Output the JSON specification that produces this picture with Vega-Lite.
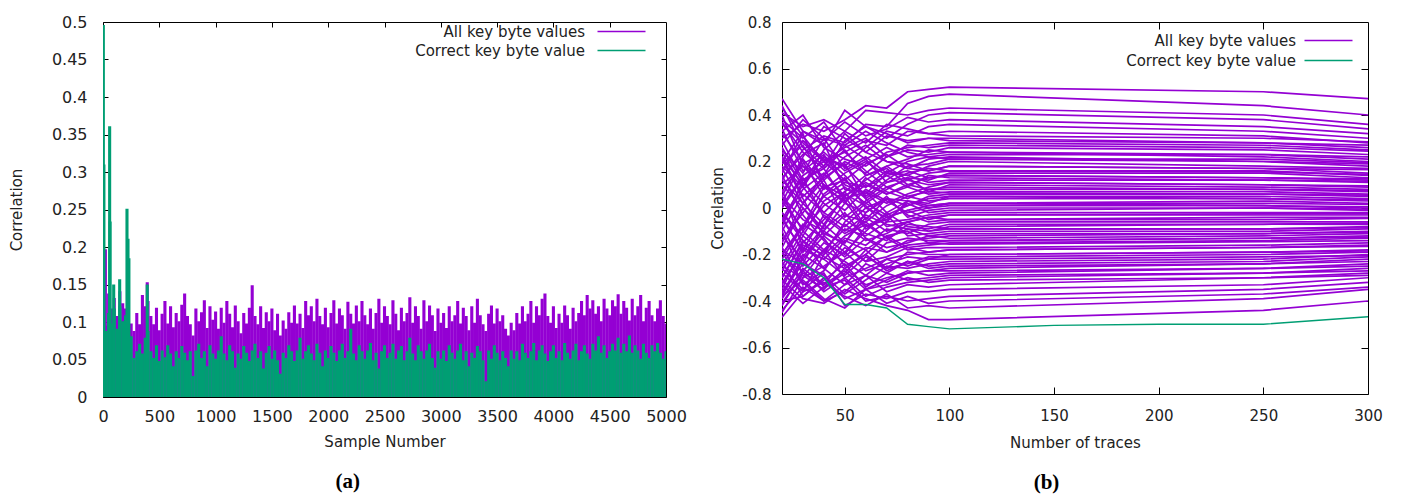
{
"$schema":"https://vega.github.io/schema/vega-lite/v6.json",
"background":"white",
"padding":{"left":8,"top":13,"right":5,"bottom":2},
"config":{"font":"DejaVu Sans","view":{"stroke":"#000","strokeWidth":1},
"axis":{"grid":false,"domain":false,"labelColor":"#222","titleColor":"#222","titleFontWeight":"normal","titleFontSize":15,"tickColor":"#000","tickWidth":1,"labelFlush":false,"labelOverlap":false}},
"datasets":{
"pa":[{"s":21,"r":0.197},{"s":393,"r":0.153},
{"s":0,"r":0.105},{"s":25,"r":0.095},{"s":50,"r":0.138},{"s":75,"r":0.118},{"s":100,"r":0.132},{"s":125,"r":0.108},{"s":150,"r":0.141},{"s":175,"r":0.125},{"s":200,"r":0.118},{"s":225,"r":0.112},{"s":250,"r":0.098},{"s":275,"r":0.088},{"s":300,"r":0.112},{"s":325,"r":0.097},{"s":350,"r":0.136},{"s":375,"r":0.121},{"s":400,"r":0.128},{"s":425,"r":0.108},{"s":450,"r":0.097},{"s":475,"r":0.119},{"s":500,"r":0.089},{"s":525,"r":0.111},{"s":550,"r":0.128},{"s":575,"r":0.098},{"s":600,"r":0.121},{"s":625,"r":0.093},{"s":650,"r":0.112},{"s":675,"r":0.101},{"s":700,"r":0.123},{"s":725,"r":0.138},{"s":750,"r":0.108},{"s":775,"r":0.097},{"s":800,"r":0.082},{"s":825,"r":0.118},{"s":850,"r":0.101},{"s":875,"r":0.113},{"s":900,"r":0.129},{"s":925,"r":0.092},{"s":950,"r":0.121},{"s":975,"r":0.103},
{"s":1000,"r":0.114},{"s":1025,"r":0.091},{"s":1050,"r":0.119},{"s":1075,"r":0.099},{"s":1100,"r":0.128},{"s":1125,"r":0.111},{"s":1150,"r":0.093},{"s":1175,"r":0.122},{"s":1200,"r":0.101},{"s":1225,"r":0.085},{"s":1250,"r":0.112},{"s":1275,"r":0.098},{"s":1300,"r":0.119},{"s":1325,"r":0.149},{"s":1350,"r":0.108},{"s":1375,"r":0.097},{"s":1400,"r":0.121},{"s":1425,"r":0.092},{"s":1450,"r":0.113},{"s":1475,"r":0.101},{"s":1500,"r":0.118},{"s":1525,"r":0.089},{"s":1550,"r":0.111},{"s":1575,"r":0.082},{"s":1600,"r":0.102},{"s":1625,"r":0.091},{"s":1650,"r":0.113},{"s":1675,"r":0.099},{"s":1700,"r":0.122},{"s":1725,"r":0.098},{"s":1750,"r":0.111},{"s":1775,"r":0.092},{"s":1800,"r":0.128},{"s":1825,"r":0.109},{"s":1850,"r":0.121},{"s":1875,"r":0.101},{"s":1900,"r":0.131},{"s":1925,"r":0.108},{"s":1950,"r":0.097},{"s":1975,"r":0.119},
{"s":2000,"r":0.093},{"s":2025,"r":0.112},{"s":2050,"r":0.129},{"s":2075,"r":0.098},{"s":2100,"r":0.118},{"s":2125,"r":0.109},{"s":2150,"r":0.091},{"s":2175,"r":0.127},{"s":2200,"r":0.111},{"s":2225,"r":0.098},{"s":2250,"r":0.122},{"s":2275,"r":0.101},{"s":2300,"r":0.128},{"s":2325,"r":0.109},{"s":2350,"r":0.097},{"s":2375,"r":0.118},{"s":2400,"r":0.091},{"s":2425,"r":0.112},{"s":2450,"r":0.131},{"s":2475,"r":0.099},{"s":2500,"r":0.121},{"s":2525,"r":0.108},{"s":2550,"r":0.097},{"s":2575,"r":0.129},{"s":2600,"r":0.111},{"s":2625,"r":0.089},{"s":2650,"r":0.119},{"s":2675,"r":0.101},{"s":2700,"r":0.112},{"s":2725,"r":0.133},{"s":2750,"r":0.099},{"s":2775,"r":0.121},{"s":2800,"r":0.108},{"s":2825,"r":0.091},{"s":2850,"r":0.129},{"s":2875,"r":0.101},{"s":2900,"r":0.122},{"s":2925,"r":0.109},{"s":2950,"r":0.088},{"s":2975,"r":0.118},
{"s":3000,"r":0.099},{"s":3025,"r":0.112},{"s":3050,"r":0.092},{"s":3075,"r":0.121},{"s":3100,"r":0.101},{"s":3125,"r":0.109},{"s":3150,"r":0.128},{"s":3175,"r":0.098},{"s":3200,"r":0.119},{"s":3225,"r":0.108},{"s":3250,"r":0.089},{"s":3275,"r":0.121},{"s":3300,"r":0.099},{"s":3325,"r":0.131},{"s":3350,"r":0.109},{"s":3375,"r":0.097},{"s":3400,"r":0.088},{"s":3425,"r":0.111},{"s":3450,"r":0.122},{"s":3475,"r":0.098},{"s":3500,"r":0.118},{"s":3525,"r":0.101},{"s":3550,"r":0.109},{"s":3575,"r":0.091},{"s":3600,"r":0.082},{"s":3625,"r":0.099},{"s":3650,"r":0.089},{"s":3675,"r":0.112},{"s":3700,"r":0.098},{"s":3725,"r":0.121},{"s":3750,"r":0.101},{"s":3775,"r":0.111},{"s":3800,"r":0.128},{"s":3825,"r":0.099},{"s":3850,"r":0.121},{"s":3875,"r":0.109},{"s":3900,"r":0.131},{"s":3925,"r":0.138},{"s":3950,"r":0.108},{"s":3975,"r":0.099},
{"s":4000,"r":0.121},{"s":4025,"r":0.092},{"s":4050,"r":0.111},{"s":4075,"r":0.099},{"s":4100,"r":0.122},{"s":4125,"r":0.109},{"s":4150,"r":0.091},{"s":4175,"r":0.119},{"s":4200,"r":0.101},{"s":4225,"r":0.112},{"s":4250,"r":0.128},{"s":4275,"r":0.109},{"s":4300,"r":0.136},{"s":4325,"r":0.118},{"s":4350,"r":0.129},{"s":4375,"r":0.111},{"s":4400,"r":0.121},{"s":4425,"r":0.101},{"s":4450,"r":0.131},{"s":4475,"r":0.118},{"s":4500,"r":0.109},{"s":4525,"r":0.129},{"s":4550,"r":0.121},{"s":4575,"r":0.137},{"s":4600,"r":0.111},{"s":4625,"r":0.128},{"s":4650,"r":0.119},{"s":4675,"r":0.102},{"s":4700,"r":0.131},{"s":4725,"r":0.109},{"s":4750,"r":0.121},{"s":4775,"r":0.136},{"s":4800,"r":0.101},{"s":4825,"r":0.119},{"s":4850,"r":0.128},{"s":4875,"r":0.109},{"s":4900,"r":0.101},{"s":4925,"r":0.118},{"s":4950,"r":0.129},{"s":4975,"r":0.108},{"s":5000,"r":0.098}],
"ga":[
{"s":0,"r":0.105},{"s":25,"r":0.088},{"s":50,"r":0.112},{"s":75,"r":0.098},{"s":100,"r":0.118},{"s":125,"r":0.091},{"s":150,"r":0.121},{"s":175,"r":0.101},{"s":200,"r":0.109},{"s":225,"r":0.098},{"s":250,"r":0.081},{"s":275,"r":0.052},{"s":300,"r":0.061},{"s":325,"r":0.071},{"s":350,"r":0.058},{"s":375,"r":0.079},{"s":400,"r":0.088},{"s":425,"r":0.061},{"s":450,"r":0.052},{"s":475,"r":0.069},{"s":500,"r":0.048},{"s":525,"r":0.062},{"s":550,"r":0.053},{"s":575,"r":0.069},{"s":600,"r":0.058},{"s":625,"r":0.041},{"s":650,"r":0.061},{"s":675,"r":0.052},{"s":700,"r":0.068},{"s":725,"r":0.059},{"s":750,"r":0.049},{"s":775,"r":0.061},{"s":800,"r":0.028},{"s":825,"r":0.062},{"s":850,"r":0.071},{"s":875,"r":0.052},{"s":900,"r":0.061},{"s":925,"r":0.041},{"s":950,"r":0.069},{"s":975,"r":0.058},
{"s":1000,"r":0.051},{"s":1025,"r":0.062},{"s":1050,"r":0.081},{"s":1075,"r":0.058},{"s":1100,"r":0.049},{"s":1125,"r":0.069},{"s":1150,"r":0.061},{"s":1175,"r":0.039},{"s":1200,"r":0.058},{"s":1225,"r":0.051},{"s":1250,"r":0.068},{"s":1275,"r":0.059},{"s":1300,"r":0.048},{"s":1325,"r":0.062},{"s":1350,"r":0.071},{"s":1375,"r":0.052},{"s":1400,"r":0.061},{"s":1425,"r":0.038},{"s":1450,"r":0.059},{"s":1475,"r":0.068},{"s":1500,"r":0.051},{"s":1525,"r":0.062},{"s":1550,"r":0.049},{"s":1575,"r":0.031},{"s":1600,"r":0.059},{"s":1625,"r":0.052},{"s":1650,"r":0.069},{"s":1675,"r":0.061},{"s":1700,"r":0.048},{"s":1725,"r":0.062},{"s":1750,"r":0.079},{"s":1775,"r":0.051},{"s":1800,"r":0.061},{"s":1825,"r":0.069},{"s":1850,"r":0.058},{"s":1875,"r":0.049},{"s":1900,"r":0.071},{"s":1925,"r":0.059},{"s":1950,"r":0.041},{"s":1975,"r":0.062},
{"s":2000,"r":0.052},{"s":2025,"r":0.068},{"s":2050,"r":0.059},{"s":2075,"r":0.048},{"s":2100,"r":0.062},{"s":2125,"r":0.071},{"s":2150,"r":0.052},{"s":2175,"r":0.061},{"s":2200,"r":0.091},{"s":2225,"r":0.058},{"s":2250,"r":0.049},{"s":2275,"r":0.069},{"s":2300,"r":0.061},{"s":2325,"r":0.051},{"s":2350,"r":0.062},{"s":2375,"r":0.072},{"s":2400,"r":0.049},{"s":2425,"r":0.059},{"s":2450,"r":0.038},{"s":2475,"r":0.061},{"s":2500,"r":0.069},{"s":2525,"r":0.052},{"s":2550,"r":0.059},{"s":2575,"r":0.071},{"s":2600,"r":0.051},{"s":2625,"r":0.062},{"s":2650,"r":0.068},{"s":2675,"r":0.049},{"s":2700,"r":0.061},{"s":2725,"r":0.079},{"s":2750,"r":0.058},{"s":2775,"r":0.049},{"s":2800,"r":0.069},{"s":2825,"r":0.061},{"s":2850,"r":0.051},{"s":2875,"r":0.062},{"s":2900,"r":0.071},{"s":2925,"r":0.052},{"s":2950,"r":0.039},{"s":2975,"r":0.061},
{"s":3000,"r":0.051},{"s":3025,"r":0.062},{"s":3050,"r":0.048},{"s":3075,"r":0.069},{"s":3100,"r":0.059},{"s":3125,"r":0.051},{"s":3150,"r":0.062},{"s":3175,"r":0.071},{"s":3200,"r":0.049},{"s":3225,"r":0.061},{"s":3250,"r":0.041},{"s":3275,"r":0.059},{"s":3300,"r":0.052},{"s":3325,"r":0.068},{"s":3350,"r":0.061},{"s":3375,"r":0.049},{"s":3400,"r":0.021},{"s":3425,"r":0.062},{"s":3450,"r":0.051},{"s":3475,"r":0.069},{"s":3500,"r":0.059},{"s":3525,"r":0.049},{"s":3550,"r":0.061},{"s":3575,"r":0.052},{"s":3600,"r":0.041},{"s":3625,"r":0.062},{"s":3650,"r":0.051},{"s":3675,"r":0.061},{"s":3700,"r":0.049},{"s":3725,"r":0.071},{"s":3750,"r":0.059},{"s":3775,"r":0.052},{"s":3800,"r":0.061},{"s":3825,"r":0.072},{"s":3850,"r":0.049},{"s":3875,"r":0.062},{"s":3900,"r":0.069},{"s":3925,"r":0.058},{"s":3950,"r":0.048},{"s":3975,"r":0.061},
{"s":4000,"r":0.069},{"s":4025,"r":0.052},{"s":4050,"r":0.061},{"s":4075,"r":0.049},{"s":4100,"r":0.072},{"s":4125,"r":0.059},{"s":4150,"r":0.051},{"s":4175,"r":0.062},{"s":4200,"r":0.071},{"s":4225,"r":0.049},{"s":4250,"r":0.061},{"s":4275,"r":0.069},{"s":4300,"r":0.058},{"s":4325,"r":0.051},{"s":4350,"r":0.071},{"s":4375,"r":0.062},{"s":4400,"r":0.081},{"s":4425,"r":0.059},{"s":4450,"r":0.069},{"s":4475,"r":0.052},{"s":4500,"r":0.061},{"s":4525,"r":0.071},{"s":4550,"r":0.062},{"s":4575,"r":0.079},{"s":4600,"r":0.059},{"s":4625,"r":0.071},{"s":4650,"r":0.061},{"s":4675,"r":0.082},{"s":4700,"r":0.059},{"s":4725,"r":0.069},{"s":4750,"r":0.062},{"s":4775,"r":0.051},{"s":4800,"r":0.071},{"s":4825,"r":0.059},{"s":4850,"r":0.052},{"s":4875,"r":0.069},{"s":4900,"r":0.061},{"s":4925,"r":0.072},{"s":4950,"r":0.059},{"s":4975,"r":0.051},{"s":5000,"r":0.061},
{"s":3,"r":0.496},{"s":8,"r":0.31},{"s":59,"r":0.361},{"s":63,"r":0.234},{"s":95,"r":0.15},{"s":148,"r":0.157},{"s":213,"r":0.251},{"s":222,"r":0.211},{"s":230,"r":0.185},{"s":393,"r":0.15}],
"pb":[
{"k":1,"n":20,"r":0.3},{"k":1,"n":30,"r":0.36},{"k":1,"n":40,"r":0.33},{"k":1,"n":50,"r":0.38},{"k":1,"n":60,"r":0.44},{"k":1,"n":70,"r":0.43},{"k":1,"n":80,"r":0.5},{"k":1,"n":90,"r":0.51},{"k":1,"n":100,"r":0.52},{"k":1,"n":250,"r":0.5},{"k":1,"n":300,"r":0.47},
{"k":2,"n":20,"r":0.12},{"k":2,"n":30,"r":0.25},{"k":2,"n":40,"r":0.31},{"k":2,"n":50,"r":0.28},{"k":2,"n":60,"r":0.36},{"k":2,"n":70,"r":0.35},{"k":2,"n":80,"r":0.45},{"k":2,"n":90,"r":0.48},{"k":2,"n":100,"r":0.49},{"k":2,"n":250,"r":0.44},{"k":2,"n":300,"r":0.4},
{"k":3,"n":20,"r":0.41},{"k":3,"n":30,"r":0.35},{"k":3,"n":40,"r":0.38},{"k":3,"n":50,"r":0.33},{"k":3,"n":60,"r":0.42},{"k":3,"n":70,"r":0.41},{"k":3,"n":80,"r":0.4},{"k":3,"n":90,"r":0.42},{"k":3,"n":100,"r":0.43},{"k":3,"n":250,"r":0.4},{"k":3,"n":300,"r":0.36},
{"k":4,"n":20,"r":0.2},{"k":4,"n":30,"r":0.33},{"k":4,"n":40,"r":0.27},{"k":4,"n":50,"r":0.42},{"k":4,"n":60,"r":0.35},{"k":4,"n":70,"r":0.3},{"k":4,"n":80,"r":0.36},{"k":4,"n":90,"r":0.4},{"k":4,"n":100,"r":0.41},{"k":4,"n":250,"r":0.38},{"k":4,"n":300,"r":0.34},
{"k":5,"n":20,"r":0.47},{"k":5,"n":30,"r":0.33},{"k":5,"n":40,"r":0.29},{"k":5,"n":50,"r":0.37},{"k":5,"n":60,"r":0.31},{"k":5,"n":70,"r":0.34},{"k":5,"n":80,"r":0.39},{"k":5,"n":90,"r":0.37},{"k":5,"n":100,"r":0.38},{"k":5,"n":250,"r":0.35},{"k":5,"n":300,"r":0.32},
{"k":6,"n":20,"r":-0.05},{"k":6,"n":30,"r":0.1},{"k":6,"n":40,"r":0.22},{"k":6,"n":50,"r":0.18},{"k":6,"n":60,"r":0.26},{"k":6,"n":70,"r":0.33},{"k":6,"n":80,"r":0.31},{"k":6,"n":90,"r":0.35},{"k":6,"n":100,"r":0.36},{"k":6,"n":250,"r":0.33},{"k":6,"n":300,"r":0.3},
{"k":7,"n":20,"r":0.38},{"k":7,"n":30,"r":0.3},{"k":7,"n":40,"r":0.37},{"k":7,"n":50,"r":0.24},{"k":7,"n":60,"r":0.29},{"k":7,"n":70,"r":0.27},{"k":7,"n":80,"r":0.33},{"k":7,"n":90,"r":0.32},{"k":7,"n":100,"r":0.33},{"k":7,"n":250,"r":0.31},{"k":7,"n":300,"r":0.28},
{"k":8,"n":20,"r":0.1},{"k":8,"n":30,"r":0.18},{"k":8,"n":40,"r":0.14},{"k":8,"n":50,"r":0.29},{"k":8,"n":60,"r":0.35},{"k":8,"n":70,"r":0.32},{"k":8,"n":80,"r":0.28},{"k":8,"n":90,"r":0.3},{"k":8,"n":100,"r":0.3},{"k":8,"n":250,"r":0.28},{"k":8,"n":300,"r":0.26},
{"k":9,"n":20,"r":0.33},{"k":9,"n":30,"r":0.4},{"k":9,"n":40,"r":0.26},{"k":9,"n":50,"r":0.21},{"k":9,"n":60,"r":0.18},{"k":9,"n":70,"r":0.24},{"k":9,"n":80,"r":0.26},{"k":9,"n":90,"r":0.27},{"k":9,"n":100,"r":0.28},{"k":9,"n":250,"r":0.27},{"k":9,"n":300,"r":0.25},
{"k":10,"n":20,"r":-0.15},{"k":10,"n":30,"r":0.02},{"k":10,"n":40,"r":0.12},{"k":10,"n":50,"r":0.2},{"k":10,"n":60,"r":0.15},{"k":10,"n":70,"r":0.22},{"k":10,"n":80,"r":0.25},{"k":10,"n":90,"r":0.24},{"k":10,"n":100,"r":0.26},{"k":10,"n":250,"r":0.25},{"k":10,"n":300,"r":0.23},
{"k":11,"n":20,"r":0.25},{"k":11,"n":30,"r":0.15},{"k":11,"n":40,"r":0.3},{"k":11,"n":50,"r":0.27},{"k":11,"n":60,"r":0.33},{"k":11,"n":70,"r":0.28},{"k":11,"n":80,"r":0.24},{"k":11,"n":90,"r":0.22},{"k":11,"n":100,"r":0.23},{"k":11,"n":250,"r":0.23},{"k":11,"n":300,"r":0.21},
{"k":12,"n":20,"r":0.02},{"k":12,"n":30,"r":0.21},{"k":12,"n":40,"r":0.1},{"k":12,"n":50,"r":0.05},{"k":12,"n":60,"r":0.12},{"k":12,"n":70,"r":0.18},{"k":12,"n":80,"r":0.21},{"k":12,"n":90,"r":0.25},{"k":12,"n":100,"r":0.24},{"k":12,"n":250,"r":0.22},{"k":12,"n":300,"r":0.2},
{"k":13,"n":20,"r":0.44},{"k":13,"n":30,"r":0.26},{"k":13,"n":40,"r":0.18},{"k":13,"n":50,"r":0.32},{"k":13,"n":60,"r":0.24},{"k":13,"n":70,"r":0.2},{"k":13,"n":80,"r":0.17},{"k":13,"n":90,"r":0.21},{"k":13,"n":100,"r":0.22},{"k":13,"n":250,"r":0.2},{"k":13,"n":300,"r":0.19},
{"k":14,"n":20,"r":0.18},{"k":14,"n":30,"r":0.09},{"k":14,"n":40,"r":0.22},{"k":14,"n":50,"r":0.14},{"k":14,"n":60,"r":0.05},{"k":14,"n":70,"r":0.12},{"k":14,"n":80,"r":0.18},{"k":14,"n":90,"r":0.19},{"k":14,"n":100,"r":0.21},{"k":14,"n":250,"r":0.2},{"k":14,"n":300,"r":0.18},
{"k":15,"n":20,"r":-0.2},{"k":15,"n":30,"r":-0.08},{"k":15,"n":40,"r":0.05},{"k":15,"n":50,"r":0.11},{"k":15,"n":60,"r":0.09},{"k":15,"n":70,"r":0.16},{"k":15,"n":80,"r":0.14},{"k":15,"n":90,"r":0.18},{"k":15,"n":100,"r":0.2},{"k":15,"n":250,"r":0.18},{"k":15,"n":300,"r":0.17},
{"k":16,"n":20,"r":0.36},{"k":16,"n":30,"r":0.28},{"k":16,"n":40,"r":0.2},{"k":16,"n":50,"r":0.12},{"k":16,"n":60,"r":0.19},{"k":16,"n":70,"r":0.23},{"k":16,"n":80,"r":0.17},{"k":16,"n":90,"r":0.16},{"k":16,"n":100,"r":0.18},{"k":16,"n":250,"r":0.17},{"k":16,"n":300,"r":0.15},
{"k":17,"n":20,"r":0.07},{"k":17,"n":30,"r":0.19},{"k":17,"n":40,"r":0.24},{"k":17,"n":50,"r":0.16},{"k":17,"n":60,"r":0.21},{"k":17,"n":70,"r":0.11},{"k":17,"n":80,"r":0.15},{"k":17,"n":90,"r":0.17},{"k":17,"n":100,"r":0.16},{"k":17,"n":250,"r":0.16},{"k":17,"n":300,"r":0.14},
{"k":18,"n":20,"r":-0.02},{"k":18,"n":30,"r":-0.12},{"k":18,"n":40,"r":0.03},{"k":18,"n":50,"r":0.09},{"k":18,"n":60,"r":0.02},{"k":18,"n":70,"r":0.08},{"k":18,"n":80,"r":0.13},{"k":18,"n":90,"r":0.12},{"k":18,"n":100,"r":0.15},{"k":18,"n":250,"r":0.15},{"k":18,"n":300,"r":0.13},
{"k":19,"n":20,"r":0.29},{"k":19,"n":30,"r":0.12},{"k":19,"n":40,"r":0.17},{"k":19,"n":50,"r":0.25},{"k":19,"n":60,"r":0.14},{"k":19,"n":70,"r":0.17},{"k":19,"n":80,"r":0.1},{"k":19,"n":90,"r":0.13},{"k":19,"n":100,"r":0.14},{"k":19,"n":250,"r":0.13},{"k":19,"n":300,"r":0.12},
{"k":20,"n":20,"r":0.15},{"k":20,"n":30,"r":0.32},{"k":20,"n":40,"r":0.09},{"k":20,"n":50,"r":0.03},{"k":20,"n":60,"r":0.1},{"k":20,"n":70,"r":0.06},{"k":20,"n":80,"r":0.09},{"k":20,"n":90,"r":0.14},{"k":20,"n":100,"r":0.13},{"k":20,"n":250,"r":0.12},{"k":20,"n":300,"r":0.11},
{"k":21,"n":20,"r":-0.3},{"k":21,"n":30,"r":-0.15},{"k":21,"n":40,"r":-0.05},{"k":21,"n":50,"r":0.04},{"k":21,"n":60,"r":0.07},{"k":21,"n":70,"r":0.02},{"k":21,"n":80,"r":0.06},{"k":21,"n":90,"r":0.09},{"k":21,"n":100,"r":0.11},{"k":21,"n":250,"r":0.1},{"k":21,"n":300,"r":0.09},
{"k":22,"n":20,"r":0.22},{"k":22,"n":30,"r":0.05},{"k":22,"n":40,"r":0.13},{"k":22,"n":50,"r":0.19},{"k":22,"n":60,"r":0.04},{"k":22,"n":70,"r":0.11},{"k":22,"n":80,"r":0.13},{"k":22,"n":90,"r":0.07},{"k":22,"n":100,"r":0.1},{"k":22,"n":250,"r":0.09},{"k":22,"n":300,"r":0.08},
{"k":23,"n":20,"r":0.05},{"k":23,"n":30,"r":-0.05},{"k":23,"n":40,"r":-0.1},{"k":23,"n":50,"r":0.02},{"k":23,"n":60,"r":0.13},{"k":23,"n":70,"r":0.07},{"k":23,"n":80,"r":0.04},{"k":23,"n":90,"r":0.08},{"k":23,"n":100,"r":0.08},{"k":23,"n":250,"r":0.08},{"k":23,"n":300,"r":0.07},
{"k":24,"n":20,"r":0.4},{"k":24,"n":30,"r":0.18},{"k":24,"n":40,"r":0.08},{"k":24,"n":50,"r":0.15},{"k":24,"n":60,"r":0.2},{"k":24,"n":70,"r":0.14},{"k":24,"n":80,"r":0.09},{"k":24,"n":90,"r":0.06},{"k":24,"n":100,"r":0.07},{"k":24,"n":250,"r":0.07},{"k":24,"n":300,"r":0.06},
{"k":25,"n":20,"r":-0.1},{"k":25,"n":30,"r":0.06},{"k":25,"n":40,"r":-0.02},{"k":25,"n":50,"r":-0.08},{"k":25,"n":60,"r":0.0},{"k":25,"n":70,"r":0.04},{"k":25,"n":80,"r":0.01},{"k":25,"n":90,"r":0.05},{"k":25,"n":100,"r":0.06},{"k":25,"n":250,"r":0.06},{"k":25,"n":300,"r":0.05},
{"k":26,"n":20,"r":0.13},{"k":26,"n":30,"r":0.23},{"k":26,"n":40,"r":0.28},{"k":26,"n":50,"r":0.08},{"k":26,"n":60,"r":0.07},{"k":26,"n":70,"r":-0.02},{"k":26,"n":80,"r":0.03},{"k":26,"n":90,"r":0.02},{"k":26,"n":100,"r":0.05},{"k":26,"n":250,"r":0.05},{"k":26,"n":300,"r":0.04},
{"k":27,"n":20,"r":-0.38},{"k":27,"n":30,"r":-0.22},{"k":27,"n":40,"r":-0.12},{"k":27,"n":50,"r":-0.03},{"k":27,"n":60,"r":-0.06},{"k":27,"n":70,"r":0.01},{"k":27,"n":80,"r":0.05},{"k":27,"n":90,"r":0.03},{"k":27,"n":100,"r":0.04},{"k":27,"n":250,"r":0.04},{"k":27,"n":300,"r":0.03},
{"k":28,"n":20,"r":0.03},{"k":28,"n":30,"r":-0.09},{"k":28,"n":40,"r":0.06},{"k":28,"n":50,"r":0.13},{"k":28,"n":60,"r":0.0},{"k":28,"n":70,"r":-0.04},{"k":28,"n":80,"r":-0.01},{"k":28,"n":90,"r":0.01},{"k":28,"n":100,"r":0.02},{"k":28,"n":250,"r":0.03},{"k":28,"n":300,"r":0.02},
{"k":29,"n":20,"r":0.32},{"k":29,"n":30,"r":0.2},{"k":29,"n":40,"r":0.05},{"k":29,"n":50,"r":-0.01},{"k":29,"n":60,"r":0.08},{"k":29,"n":70,"r":0.03},{"k":29,"n":80,"r":-0.02},{"k":29,"n":90,"r":0.0},{"k":29,"n":100,"r":0.01},{"k":29,"n":250,"r":0.01},{"k":29,"n":300,"r":0.0},
{"k":30,"n":20,"r":-0.06},{"k":30,"n":30,"r":0.08},{"k":30,"n":40,"r":0.15},{"k":30,"n":50,"r":0.05},{"k":30,"n":60,"r":-0.08},{"k":30,"n":70,"r":-0.05},{"k":30,"n":80,"r":0.02},{"k":30,"n":90,"r":-0.02},{"k":30,"n":100,"r":-0.01},{"k":30,"n":250,"r":0.0},{"k":30,"n":300,"r":-0.01},
{"k":31,"n":20,"r":-0.25},{"k":31,"n":30,"r":-0.3},{"k":31,"n":40,"r":-0.18},{"k":31,"n":50,"r":-0.09},{"k":31,"n":60,"r":-0.12},{"k":31,"n":70,"r":-0.06},{"k":31,"n":80,"r":-0.05},{"k":31,"n":90,"r":-0.03},{"k":31,"n":100,"r":-0.02},{"k":31,"n":250,"r":-0.02},{"k":31,"n":300,"r":-0.02},
{"k":32,"n":20,"r":0.17},{"k":32,"n":30,"r":0.02},{"k":32,"n":40,"r":-0.07},{"k":32,"n":50,"r":-0.15},{"k":32,"n":60,"r":-0.04},{"k":32,"n":70,"r":-0.1},{"k":32,"n":80,"r":-0.06},{"k":32,"n":90,"r":-0.04},{"k":32,"n":100,"r":-0.03},{"k":32,"n":250,"r":-0.03},{"k":32,"n":300,"r":-0.03},
{"k":33,"n":20,"r":-0.14},{"k":33,"n":30,"r":-0.02},{"k":33,"n":40,"r":0.1},{"k":33,"n":50,"r":0.02},{"k":33,"n":60,"r":-0.02},{"k":33,"n":70,"r":0.04},{"k":33,"n":80,"r":-0.03},{"k":33,"n":90,"r":-0.06},{"k":33,"n":100,"r":-0.05},{"k":33,"n":250,"r":-0.04},{"k":33,"n":300,"r":-0.04},
{"k":34,"n":20,"r":0.08},{"k":34,"n":30,"r":-0.17},{"k":34,"n":40,"r":-0.22},{"k":34,"n":50,"r":-0.13},{"k":34,"n":60,"r":-0.16},{"k":34,"n":70,"r":-0.09},{"k":34,"n":80,"r":-0.11},{"k":34,"n":90,"r":-0.07},{"k":34,"n":100,"r":-0.06},{"k":34,"n":250,"r":-0.06},{"k":34,"n":300,"r":-0.06},
{"k":35,"n":20,"r":-0.33},{"k":35,"n":30,"r":-0.18},{"k":35,"n":40,"r":-0.03},{"k":35,"n":50,"r":-0.1},{"k":35,"n":60,"r":-0.03},{"k":35,"n":70,"r":-0.07},{"k":35,"n":80,"r":-0.09},{"k":35,"n":90,"r":-0.1},{"k":35,"n":100,"r":-0.08},{"k":35,"n":250,"r":-0.07},{"k":35,"n":300,"r":-0.07},
{"k":36,"n":20,"r":0.26},{"k":36,"n":30,"r":0.11},{"k":36,"n":40,"r":0.02},{"k":36,"n":50,"r":-0.05},{"k":36,"n":60,"r":-0.11},{"k":36,"n":70,"r":-0.14},{"k":36,"n":80,"r":-0.07},{"k":36,"n":90,"r":-0.08},{"k":36,"n":100,"r":-0.09},{"k":36,"n":250,"r":-0.09},{"k":36,"n":300,"r":-0.08},
{"k":37,"n":20,"r":-0.08},{"k":37,"n":30,"r":-0.25},{"k":37,"n":40,"r":-0.15},{"k":37,"n":50,"r":-0.2},{"k":37,"n":60,"r":-0.08},{"k":37,"n":70,"r":-0.03},{"k":37,"n":80,"r":-0.12},{"k":37,"n":90,"r":-0.11},{"k":37,"n":100,"r":-0.1},{"k":37,"n":250,"r":-0.1},{"k":37,"n":300,"r":-0.09},
{"k":38,"n":20,"r":-0.41},{"k":38,"n":30,"r":-0.28},{"k":38,"n":40,"r":-0.33},{"k":38,"n":50,"r":-0.22},{"k":38,"n":60,"r":-0.17},{"k":38,"n":70,"r":-0.19},{"k":38,"n":80,"r":-0.14},{"k":38,"n":90,"r":-0.13},{"k":38,"n":100,"r":-0.12},{"k":38,"n":250,"r":-0.11},{"k":38,"n":300,"r":-0.1},
{"k":39,"n":20,"r":0.1},{"k":39,"n":30,"r":0.0},{"k":39,"n":40,"r":-0.09},{"k":39,"n":50,"r":-0.02},{"k":39,"n":60,"r":-0.13},{"k":39,"n":70,"r":-0.17},{"k":39,"n":80,"r":-0.15},{"k":39,"n":90,"r":-0.12},{"k":39,"n":100,"r":-0.13},{"k":39,"n":250,"r":-0.12},{"k":39,"n":300,"r":-0.11},
{"k":40,"n":20,"r":-0.2},{"k":40,"n":30,"r":-0.07},{"k":40,"n":40,"r":-0.13},{"k":40,"n":50,"r":-0.25},{"k":40,"n":60,"r":-0.2},{"k":40,"n":70,"r":-0.12},{"k":40,"n":80,"r":-0.1},{"k":40,"n":90,"r":-0.15},{"k":40,"n":100,"r":-0.14},{"k":40,"n":250,"r":-0.13},{"k":40,"n":300,"r":-0.12},
{"k":41,"n":20,"r":-0.02},{"k":41,"n":30,"r":-0.14},{"k":41,"n":40,"r":-0.26},{"k":41,"n":50,"r":-0.17},{"k":41,"n":60,"r":-0.23},{"k":41,"n":70,"r":-0.21},{"k":41,"n":80,"r":-0.17},{"k":41,"n":90,"r":-0.16},{"k":41,"n":100,"r":-0.15},{"k":41,"n":250,"r":-0.14},{"k":41,"n":300,"r":-0.13},
{"k":42,"n":20,"r":-0.28},{"k":42,"n":30,"r":-0.36},{"k":42,"n":40,"r":-0.2},{"k":42,"n":50,"r":-0.12},{"k":42,"n":60,"r":-0.07},{"k":42,"n":70,"r":-0.13},{"k":42,"n":80,"r":-0.18},{"k":42,"n":90,"r":-0.17},{"k":42,"n":100,"r":-0.17},{"k":42,"n":250,"r":-0.16},{"k":42,"n":300,"r":-0.15},
{"k":43,"n":20,"r":0.05},{"k":43,"n":30,"r":-0.1},{"k":43,"n":40,"r":-0.18},{"k":43,"n":50,"r":-0.3},{"k":43,"n":60,"r":-0.26},{"k":43,"n":70,"r":-0.22},{"k":43,"n":80,"r":-0.2},{"k":43,"n":90,"r":-0.19},{"k":43,"n":100,"r":-0.18},{"k":43,"n":250,"r":-0.17},{"k":43,"n":300,"r":-0.16},
{"k":44,"n":20,"r":-0.45},{"k":44,"n":30,"r":-0.3},{"k":44,"n":40,"r":-0.25},{"k":44,"n":50,"r":-0.19},{"k":44,"n":60,"r":-0.27},{"k":44,"n":70,"r":-0.24},{"k":44,"n":80,"r":-0.21},{"k":44,"n":90,"r":-0.22},{"k":44,"n":100,"r":-0.2},{"k":44,"n":250,"r":-0.19},{"k":44,"n":300,"r":-0.18},
{"k":45,"n":20,"r":-0.12},{"k":45,"n":30,"r":-0.22},{"k":45,"n":40,"r":-0.34},{"k":45,"n":50,"r":-0.28},{"k":45,"n":60,"r":-0.18},{"k":45,"n":70,"r":-0.26},{"k":45,"n":80,"r":-0.24},{"k":45,"n":90,"r":-0.21},{"k":45,"n":100,"r":-0.21},{"k":45,"n":250,"r":-0.2},{"k":45,"n":300,"r":-0.19},
{"k":46,"n":20,"r":-0.36},{"k":46,"n":30,"r":-0.24},{"k":46,"n":40,"r":-0.29},{"k":46,"n":50,"r":-0.37},{"k":46,"n":60,"r":-0.31},{"k":46,"n":70,"r":-0.25},{"k":46,"n":80,"r":-0.26},{"k":46,"n":90,"r":-0.24},{"k":46,"n":100,"r":-0.23},{"k":46,"n":250,"r":-0.22},{"k":46,"n":300,"r":-0.2},
{"k":47,"n":20,"r":-0.17},{"k":47,"n":30,"r":-0.32},{"k":47,"n":40,"r":-0.4},{"k":47,"n":50,"r":-0.33},{"k":47,"n":60,"r":-0.24},{"k":47,"n":70,"r":-0.28},{"k":47,"n":80,"r":-0.23},{"k":47,"n":90,"r":-0.25},{"k":47,"n":100,"r":-0.24},{"k":47,"n":250,"r":-0.23},{"k":47,"n":300,"r":-0.21},
{"k":48,"n":20,"r":-0.3},{"k":48,"n":30,"r":-0.14},{"k":48,"n":40,"r":-0.21},{"k":48,"n":50,"r":-0.26},{"k":48,"n":60,"r":-0.33},{"k":48,"n":70,"r":-0.3},{"k":48,"n":80,"r":-0.28},{"k":48,"n":90,"r":-0.27},{"k":48,"n":100,"r":-0.26},{"k":48,"n":250,"r":-0.24},{"k":48,"n":300,"r":-0.22},
{"k":49,"n":20,"r":-0.4},{"k":49,"n":30,"r":-0.38},{"k":49,"n":40,"r":-0.3},{"k":49,"n":50,"r":-0.39},{"k":49,"n":60,"r":-0.35},{"k":49,"n":70,"r":-0.31},{"k":49,"n":80,"r":-0.27},{"k":49,"n":90,"r":-0.29},{"k":49,"n":100,"r":-0.28},{"k":49,"n":250,"r":-0.26},{"k":49,"n":300,"r":-0.24},
{"k":50,"n":20,"r":-0.22},{"k":50,"n":30,"r":-0.27},{"k":50,"n":40,"r":-0.36},{"k":50,"n":50,"r":-0.3},{"k":50,"n":60,"r":-0.38},{"k":50,"n":70,"r":-0.34},{"k":50,"n":80,"r":-0.32},{"k":50,"n":90,"r":-0.31},{"k":50,"n":100,"r":-0.3},{"k":50,"n":250,"r":-0.28},{"k":50,"n":300,"r":-0.26},
{"k":51,"n":20,"r":-0.44},{"k":51,"n":30,"r":-0.34},{"k":51,"n":40,"r":-0.4},{"k":51,"n":50,"r":-0.36},{"k":51,"n":60,"r":-0.29},{"k":51,"n":70,"r":-0.36},{"k":51,"n":80,"r":-0.33},{"k":51,"n":90,"r":-0.34},{"k":51,"n":100,"r":-0.33},{"k":51,"n":250,"r":-0.3},{"k":51,"n":300,"r":-0.28},
{"k":52,"n":20,"r":-0.26},{"k":52,"n":30,"r":-0.35},{"k":52,"n":40,"r":-0.28},{"k":52,"n":50,"r":-0.42},{"k":52,"n":60,"r":-0.37},{"k":52,"n":70,"r":-0.39},{"k":52,"n":80,"r":-0.36},{"k":52,"n":90,"r":-0.36},{"k":52,"n":100,"r":-0.35},{"k":52,"n":250,"r":-0.33},{"k":52,"n":300,"r":-0.3},
{"k":53,"n":20,"r":-0.33},{"k":53,"n":30,"r":-0.41},{"k":53,"n":40,"r":-0.34},{"k":53,"n":50,"r":-0.31},{"k":53,"n":60,"r":-0.4},{"k":53,"n":70,"r":-0.38},{"k":53,"n":80,"r":-0.4},{"k":53,"n":90,"r":-0.39},{"k":53,"n":100,"r":-0.38},{"k":53,"n":250,"r":-0.35},{"k":53,"n":300,"r":-0.32},
{"k":54,"n":20,"r":-0.38},{"k":54,"n":30,"r":-0.31},{"k":54,"n":40,"r":-0.39},{"k":54,"n":50,"r":-0.43},{"k":54,"n":60,"r":-0.35},{"k":54,"n":70,"r":-0.41},{"k":54,"n":80,"r":-0.38},{"k":54,"n":90,"r":-0.41},{"k":54,"n":100,"r":-0.4},{"k":54,"n":250,"r":-0.37},{"k":54,"n":300,"r":-0.34},
{"k":55,"n":20,"r":-0.47},{"k":55,"n":30,"r":-0.36},{"k":55,"n":40,"r":-0.32},{"k":55,"n":50,"r":-0.38},{"k":55,"n":60,"r":-0.42},{"k":55,"n":70,"r":-0.37},{"k":55,"n":80,"r":-0.43},{"k":55,"n":90,"r":-0.42},{"k":55,"n":100,"r":-0.43},{"k":55,"n":250,"r":-0.39},{"k":55,"n":300,"r":-0.35},
{"k":56,"n":20,"r":-0.31},{"k":56,"n":30,"r":-0.39},{"k":56,"n":40,"r":-0.41},{"k":56,"n":50,"r":-0.35},{"k":56,"n":60,"r":-0.39},{"k":56,"n":70,"r":-0.42},{"k":56,"n":80,"r":-0.44},{"k":56,"n":90,"r":-0.48},{"k":56,"n":100,"r":-0.48},{"k":56,"n":250,"r":-0.44},{"k":56,"n":300,"r":-0.4},
{"k":57,"n":20,"r":0.05},{"k":57,"n":30,"r":0.22},{"k":57,"n":40,"r":0.35},{"k":57,"n":50,"r":0.3},{"k":57,"n":60,"r":0.24},{"k":57,"n":70,"r":0.31},{"k":57,"n":80,"r":0.29},{"k":57,"n":90,"r":0.3},{"k":57,"n":100,"r":0.29},{"k":57,"n":250,"r":0.28},{"k":57,"n":300,"r":0.27},
{"k":58,"n":20,"r":0.43},{"k":58,"n":30,"r":0.31},{"k":58,"n":40,"r":0.2},{"k":58,"n":50,"r":0.26},{"k":58,"n":60,"r":0.3},{"k":58,"n":70,"r":0.22},{"k":58,"n":80,"r":0.27},{"k":58,"n":90,"r":0.26},{"k":58,"n":100,"r":0.27},{"k":58,"n":250,"r":0.26},{"k":58,"n":300,"r":0.245},
{"k":59,"n":20,"r":-0.08},{"k":59,"n":30,"r":0.12},{"k":59,"n":40,"r":0.18},{"k":59,"n":50,"r":0.27},{"k":59,"n":60,"r":0.21},{"k":59,"n":70,"r":0.26},{"k":59,"n":80,"r":0.22},{"k":59,"n":90,"r":0.23},{"k":59,"n":100,"r":0.24},{"k":59,"n":250,"r":0.23},{"k":59,"n":300,"r":0.22},
{"k":60,"n":20,"r":0.27},{"k":60,"n":30,"r":0.38},{"k":60,"n":40,"r":0.3},{"k":60,"n":50,"r":0.17},{"k":60,"n":60,"r":0.22},{"k":60,"n":70,"r":0.15},{"k":60,"n":80,"r":0.2},{"k":60,"n":90,"r":0.22},{"k":60,"n":100,"r":0.21},{"k":60,"n":250,"r":0.21},{"k":60,"n":300,"r":0.195},
{"k":61,"n":20,"r":0.12},{"k":61,"n":30,"r":0.02},{"k":61,"n":40,"r":0.14},{"k":61,"n":50,"r":0.22},{"k":61,"n":60,"r":0.27},{"k":61,"n":70,"r":0.2},{"k":61,"n":80,"r":0.19},{"k":61,"n":90,"r":0.16},{"k":61,"n":100,"r":0.18},{"k":61,"n":250,"r":0.17},{"k":61,"n":300,"r":0.165},
{"k":62,"n":20,"r":-0.25},{"k":62,"n":30,"r":-0.1},{"k":62,"n":40,"r":0.01},{"k":62,"n":50,"r":0.07},{"k":62,"n":60,"r":0.14},{"k":62,"n":70,"r":0.18},{"k":62,"n":80,"r":0.12},{"k":62,"n":90,"r":0.15},{"k":62,"n":100,"r":0.16},{"k":62,"n":250,"r":0.155},{"k":62,"n":300,"r":0.145},
{"k":63,"n":20,"r":0.34},{"k":63,"n":30,"r":0.16},{"k":63,"n":40,"r":0.23},{"k":63,"n":50,"r":0.1},{"k":63,"n":60,"r":0.06},{"k":63,"n":70,"r":0.15},{"k":63,"n":80,"r":0.14},{"k":63,"n":90,"r":0.11},{"k":63,"n":100,"r":0.12},{"k":63,"n":250,"r":0.12},{"k":63,"n":300,"r":0.115},
{"k":64,"n":20,"r":0.01},{"k":64,"n":30,"r":0.14},{"k":64,"n":40,"r":0.2},{"k":64,"n":50,"r":0.24},{"k":64,"n":60,"r":0.16},{"k":64,"n":70,"r":0.09},{"k":64,"n":80,"r":0.12},{"k":64,"n":90,"r":0.1},{"k":64,"n":100,"r":0.11},{"k":64,"n":250,"r":0.1},{"k":64,"n":300,"r":0.095},
{"k":65,"n":20,"r":-0.18},{"k":65,"n":30,"r":-0.24},{"k":65,"n":40,"r":-0.07},{"k":65,"n":50,"r":0.05},{"k":65,"n":60,"r":0.11},{"k":65,"n":70,"r":0.06},{"k":65,"n":80,"r":0.1},{"k":65,"n":90,"r":0.08},{"k":65,"n":100,"r":0.09},{"k":65,"n":250,"r":0.08},{"k":65,"n":300,"r":0.075},
{"k":66,"n":20,"r":0.19},{"k":66,"n":30,"r":0.27},{"k":66,"n":40,"r":0.12},{"k":66,"n":50,"r":-0.04},{"k":66,"n":60,"r":0.03},{"k":66,"n":70,"r":0.09},{"k":66,"n":80,"r":0.05},{"k":66,"n":90,"r":0.07},{"k":66,"n":100,"r":0.065},{"k":66,"n":250,"r":0.06},{"k":66,"n":300,"r":0.055},
{"k":67,"n":20,"r":-0.35},{"k":67,"n":30,"r":-0.16},{"k":67,"n":40,"r":-0.2},{"k":67,"n":50,"r":-0.06},{"k":67,"n":60,"r":0.02},{"k":67,"n":70,"r":-0.03},{"k":67,"n":80,"r":0.01},{"k":67,"n":90,"r":0.04},{"k":67,"n":100,"r":0.05},{"k":67,"n":250,"r":0.04},{"k":67,"n":300,"r":0.035},
{"k":68,"n":20,"r":0.24},{"k":68,"n":30,"r":0.09},{"k":68,"n":40,"r":-0.02},{"k":68,"n":50,"r":0.07},{"k":68,"n":60,"r":-0.05},{"k":68,"n":70,"r":0.04},{"k":68,"n":80,"r":0.03},{"k":68,"n":90,"r":0.0},{"k":68,"n":100,"r":0.02},{"k":68,"n":250,"r":0.02},{"k":68,"n":300,"r":0.015},
{"k":69,"n":20,"r":-0.17},{"k":69,"n":30,"r":0.0},{"k":69,"n":40,"r":-0.11},{"k":69,"n":50,"r":-0.15},{"k":69,"n":60,"r":-0.02},{"k":69,"n":70,"r":0.05},{"k":69,"n":80,"r":-0.04},{"k":69,"n":90,"r":-0.01},{"k":69,"n":100,"r":0.0},{"k":69,"n":250,"r":0.0},{"k":69,"n":300,"r":-0.005},
{"k":70,"n":20,"r":0.37},{"k":70,"n":30,"r":0.24},{"k":70,"n":40,"r":0.17},{"k":70,"n":50,"r":0.03},{"k":70,"n":60,"r":-0.09},{"k":70,"n":70,"r":-0.04},{"k":70,"n":80,"r":-0.01},{"k":70,"n":90,"r":-0.05},{"k":70,"n":100,"r":-0.03},{"k":70,"n":250,"r":-0.025},{"k":70,"n":300,"r":-0.025},
{"k":71,"n":20,"r":-0.04},{"k":71,"n":30,"r":-0.19},{"k":71,"n":40,"r":-0.08},{"k":71,"n":50,"r":0.06},{"k":71,"n":60,"r":0.01},{"k":71,"n":70,"r":-0.08},{"k":71,"n":80,"r":-0.06},{"k":71,"n":90,"r":-0.04},{"k":71,"n":100,"r":-0.05},{"k":71,"n":250,"r":-0.05},{"k":71,"n":300,"r":-0.045},
{"k":72,"n":20,"r":0.21},{"k":72,"n":30,"r":0.04},{"k":72,"n":40,"r":-0.12},{"k":72,"n":50,"r":-0.19},{"k":72,"n":60,"r":-0.1},{"k":72,"n":70,"r":-0.02},{"k":72,"n":80,"r":-0.08},{"k":72,"n":90,"r":-0.09},{"k":72,"n":100,"r":-0.07},{"k":72,"n":250,"r":-0.07},{"k":72,"n":300,"r":-0.065},
{"k":73,"n":20,"r":-0.27},{"k":73,"n":30,"r":-0.12},{"k":73,"n":40,"r":-0.19},{"k":73,"n":50,"r":-0.07},{"k":73,"n":60,"r":-0.14},{"k":73,"n":70,"r":-0.11},{"k":73,"n":80,"r":-0.06},{"k":73,"n":90,"r":-0.1},{"k":73,"n":100,"r":-0.09},{"k":73,"n":250,"r":-0.09},{"k":73,"n":300,"r":-0.085},
{"k":74,"n":20,"r":0.0},{"k":74,"n":30,"r":0.13},{"k":74,"n":40,"r":-0.04},{"k":74,"n":50,"r":-0.11},{"k":74,"n":60,"r":-0.06},{"k":74,"n":70,"r":-0.13},{"k":74,"n":80,"r":-0.09},{"k":74,"n":90,"r":-0.12},{"k":74,"n":100,"r":-0.11},{"k":74,"n":250,"r":-0.11},{"k":74,"n":300,"r":-0.105},
{"k":75,"n":20,"r":-0.37},{"k":75,"n":30,"r":-0.21},{"k":75,"n":40,"r":-0.1},{"k":75,"n":50,"r":-0.16},{"k":75,"n":60,"r":-0.23},{"k":75,"n":70,"r":-0.15},{"k":75,"n":80,"r":-0.13},{"k":75,"n":90,"r":-0.14},{"k":75,"n":100,"r":-0.14},{"k":75,"n":250,"r":-0.13},{"k":75,"n":300,"r":-0.125},
{"k":76,"n":20,"r":0.14},{"k":76,"n":30,"r":-0.03},{"k":76,"n":40,"r":-0.14},{"k":76,"n":50,"r":-0.21},{"k":76,"n":60,"r":-0.13},{"k":76,"n":70,"r":-0.19},{"k":76,"n":80,"r":-0.16},{"k":76,"n":90,"r":-0.15},{"k":76,"n":100,"r":-0.155},{"k":76,"n":250,"r":-0.145},{"k":76,"n":300,"r":-0.14},
{"k":77,"n":20,"r":-0.19},{"k":77,"n":30,"r":-0.33},{"k":77,"n":40,"r":-0.27},{"k":77,"n":50,"r":-0.14},{"k":77,"n":60,"r":-0.18},{"k":77,"n":70,"r":-0.12},{"k":77,"n":80,"r":-0.17},{"k":77,"n":90,"r":-0.19},{"k":77,"n":100,"r":-0.18},{"k":77,"n":250,"r":-0.17},{"k":77,"n":300,"r":-0.165},
{"k":78,"n":20,"r":-0.05},{"k":78,"n":30,"r":-0.18},{"k":78,"n":40,"r":-0.22},{"k":78,"n":50,"r":-0.29},{"k":78,"n":60,"r":-0.21},{"k":78,"n":70,"r":-0.26},{"k":78,"n":80,"r":-0.19},{"k":78,"n":90,"r":-0.2},{"k":78,"n":100,"r":-0.2},{"k":78,"n":250,"r":-0.19},{"k":78,"n":300,"r":-0.185},
{"k":79,"n":20,"r":-0.42},{"k":79,"n":30,"r":-0.27},{"k":79,"n":40,"r":-0.18},{"k":79,"n":50,"r":-0.23},{"k":79,"n":60,"r":-0.29},{"k":79,"n":70,"r":-0.22},{"k":79,"n":80,"r":-0.25},{"k":79,"n":90,"r":-0.22},{"k":79,"n":100,"r":-0.22},{"k":79,"n":250,"r":-0.21},{"k":79,"n":300,"r":-0.205},
{"k":80,"n":20,"r":-0.1},{"k":80,"n":30,"r":-0.29},{"k":80,"n":40,"r":-0.35},{"k":80,"n":50,"r":-0.26},{"k":80,"n":60,"r":-0.2},{"k":80,"n":70,"r":-0.27},{"k":80,"n":80,"r":-0.23},{"k":80,"n":90,"r":-0.26},{"k":80,"n":100,"r":-0.25},{"k":80,"n":250,"r":-0.24},{"k":80,"n":300,"r":-0.23},
{"k":81,"n":20,"r":-0.32},{"k":81,"n":30,"r":-0.2},{"k":81,"n":40,"r":-0.26},{"k":81,"n":50,"r":-0.33},{"k":81,"n":60,"r":-0.29},{"k":81,"n":70,"r":-0.32},{"k":81,"n":80,"r":-0.28},{"k":81,"n":90,"r":-0.27},{"k":81,"n":100,"r":-0.27},{"k":81,"n":250,"r":-0.26},{"k":81,"n":300,"r":-0.25},
{"k":82,"n":20,"r":-0.23},{"k":82,"n":30,"r":-0.38},{"k":82,"n":40,"r":-0.31},{"k":82,"n":50,"r":-0.24},{"k":82,"n":60,"r":-0.34},{"k":82,"n":70,"r":-0.28},{"k":82,"n":80,"r":-0.31},{"k":82,"n":90,"r":-0.3},{"k":82,"n":100,"r":-0.29},{"k":82,"n":250,"r":-0.28},{"k":82,"n":300,"r":-0.27},
{"k":83,"n":20,"r":0.22},{"k":83,"n":30,"r":0.1},{"k":83,"n":40,"r":0.25},{"k":83,"n":50,"r":0.33},{"k":83,"n":60,"r":0.28},{"k":83,"n":70,"r":0.36},{"k":83,"n":80,"r":0.34},{"k":83,"n":90,"r":0.32},{"k":83,"n":100,"r":0.31},{"k":83,"n":250,"r":0.3},{"k":83,"n":300,"r":0.285},
{"k":84,"n":20,"r":-0.39},{"k":84,"n":30,"r":-0.26},{"k":84,"n":40,"r":-0.33},{"k":84,"n":50,"r":-0.27},{"k":84,"n":60,"r":-0.35},{"k":84,"n":70,"r":-0.33},{"k":84,"n":80,"r":-0.3},{"k":84,"n":90,"r":-0.32},{"k":84,"n":100,"r":-0.31},{"k":84,"n":250,"r":-0.3},{"k":84,"n":300,"r":-0.29},
{"k":85,"n":20,"r":-0.22},{"k":85,"n":30,"r":-0.08},{"k":85,"n":40,"r":0.09},{"k":85,"n":50,"r":0.12},{"k":85,"n":60,"r":0.04},{"k":85,"n":70,"r":-0.06},{"k":85,"n":80,"r":0.03},{"k":85,"n":90,"r":0.01},{"k":85,"n":100,"r":0.02},{"k":85,"n":250,"r":0.01},{"k":85,"n":300,"r":0.005},
{"k":86,"n":20,"r":0.16},{"k":86,"n":30,"r":0.29},{"k":86,"n":40,"r":0.21},{"k":86,"n":50,"r":0.18},{"k":86,"n":60,"r":0.09},{"k":86,"n":70,"r":0.14},{"k":86,"n":80,"r":0.16},{"k":86,"n":90,"r":0.13},{"k":86,"n":100,"r":0.14},{"k":86,"n":250,"r":0.13},{"k":86,"n":300,"r":0.125}],
"gb":[{"n":20,"r":-0.22},{"n":30,"r":-0.24},{"n":40,"r":-0.3},{"n":50,"r":-0.415},{"n":60,"r":-0.415},{"n":70,"r":-0.43},{"n":80,"r":-0.5},{"n":90,"r":-0.51},{"n":100,"r":-0.52},{"n":150,"r":-0.505},{"n":200,"r":-0.5},{"n":250,"r":-0.5},{"n":300,"r":-0.468}]
},
"hconcat":[
{"width":563,"height":375,
"title":{"text":"(a)","orient":"bottom","anchor":"middle","frame":"bounds","font":"Liberation Serif","fontSize":21,"fontWeight":"bold","color":"#000","offset":22},
"layer":[
{"data":{"name":"pa"},"mark":{"type":"rule","strokeWidth":3.1,"clip":true},
"encoding":{
"x":{"field":"s","type":"quantitative","scale":{"domain":[0,5000],"nice":false},"axis":{"title":"Sample Number","values":[0,500,1000,1500,2000,2500,3000,3500,4000,4500,5000],"format":"d","labelFontSize":16,"tickSize":-5,"labelPadding":16,"titlePadding":10}},
"y":{"field":"r","type":"quantitative","scale":{"domain":[0,0.5],"nice":false},"axis":{"title":"Correlation","values":[0,0.05,0.1,0.15,0.2,0.25,0.3,0.35,0.4,0.45,0.5],"format":"~g","labelFontSize":16,"tickSize":-5,"labelPadding":21,"titlePadding":27}},
"y2":{"datum":0},
"color":{"datum":"All key byte values","type":"nominal","scale":{"domain":["All key byte values","Correct key byte value"],"range":["#9400D3","#009E73"]},
"legend":{"orient":"none","legendX":511,"legendY":2,"title":null,"symbolType":"M-4.8,0H4.8","symbolSize":100,"symbolStrokeWidth":1.3,"labelAlign":"right","labelOffset":-44,"labelFontSize":15,"labelColor":"#222","rowPadding":3,"padding":0,"labelLimit":300}}}},
{"data":{"name":"ga"},"mark":{"type":"rule","strokeWidth":3.1,"clip":true},
"encoding":{
"x":{"field":"s","type":"quantitative","axis":null},
"y":{"field":"r","type":"quantitative","axis":null},
"y2":{"datum":0},
"color":{"datum":"Correct key byte value","type":"nominal"}}},
{"data":{"name":"ga"},"mark":{"type":"point","opacity":0},
"encoding":{
"x":{"field":"s","type":"quantitative","axis":{"orient":"top","labels":false,"title":null,"values":[500,1000,1500,2000,2500,3000,3500,4000,4500],"tickSize":-5}},
"y":{"field":"r","type":"quantitative","axis":{"orient":"right","labels":false,"title":null,"values":[0.05,0.1,0.15,0.2,0.25,0.3,0.35,0.4,0.45],"tickSize":-5}}}}
],
"resolve":{"axis":{"x":"independent","y":"independent"}}
},
{"width":586,"height":372,
"title":{"text":"(b)","orient":"bottom","anchor":"middle","frame":"bounds","font":"Liberation Serif","fontSize":21,"fontWeight":"bold","color":"#000","offset":22},
"layer":[
{"data":{"name":"pb"},"mark":{"type":"line","strokeWidth":1.7,"clip":true},
"encoding":{
"x":{"field":"n","type":"quantitative","scale":{"domain":[20,300],"nice":false},"axis":{"title":"Number of traces","values":[50,100,150,200,250,300],"labelFontSize":15,"tickSize":-7,"labelPadding":21,"titlePadding":12}},
"y":{"field":"r","type":"quantitative","scale":{"domain":[-0.8,0.8],"nice":false},"axis":{"title":"Correlation","values":[-0.8,-0.6,-0.4,-0.2,0,0.2,0.4,0.6,0.8],"labelExpr":"'' + datum.value","labelFontSize":15,"tickSize":-7,"labelPadding":18,"titlePadding":16}},
"detail":{"field":"k","type":"nominal"},
"color":{"datum":"All key byte values","type":"nominal","scale":{"domain":["All key byte values","Correct key byte value"],"range":["#9400D3","#009E73"]},
"legend":{"orient":"none","legendX":539,"legendY":11,"title":null,"symbolType":"M-4.8,0H4.8","symbolSize":100,"symbolStrokeWidth":1.3,"labelAlign":"right","labelOffset":-40,"labelFontSize":15,"labelColor":"#222","rowPadding":4,"padding":0,"labelLimit":300}}}},
{"data":{"name":"gb"},"mark":{"type":"line","strokeWidth":1.4,"clip":true},
"encoding":{
"x":{"field":"n","type":"quantitative","axis":null},
"y":{"field":"r","type":"quantitative","axis":null},
"color":{"datum":"Correct key byte value","type":"nominal"}}},
{"data":{"name":"gb"},"mark":{"type":"point","opacity":0},
"encoding":{
"x":{"field":"n","type":"quantitative","axis":{"orient":"top","labels":false,"title":null,"values":[50,100,150,200,250],"tickSize":-7}},
"y":{"field":"r","type":"quantitative","axis":{"orient":"right","labels":false,"title":null,"values":[-0.6,-0.4,-0.2,0,0.2,0.4,0.6],"tickSize":-7}}}}
],
"resolve":{"axis":{"x":"independent","y":"independent"}}
}
],
"spacing":116,
"bounds":"flush",
"resolve":{"scale":{"color":"independent"},"legend":{"color":"independent"}}
}
